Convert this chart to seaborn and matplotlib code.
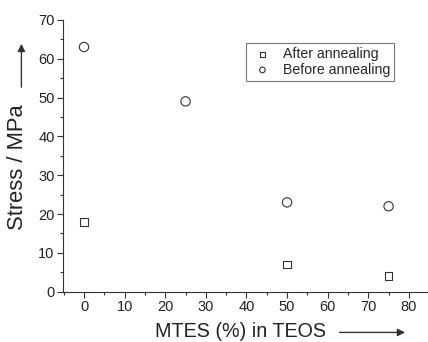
import matplotlib
matplotlib.use('Agg')
import matplotlib.pyplot as plt
from matplotlib.ticker import MultipleLocator
import seaborn as sns
import pandas as pd

# data
mtes_after = [0, 50, 75]
stress_after = [18, 7, 4]
mtes_before = [0, 25, 50, 75]
stress_before = [63, 49, 23, 22]

sns.set_style('ticks')
plt.rcParams['font.family'] = ['Liberation Sans', 'DejaVu Sans']

fig = plt.figure(figsize=(4.28, 3.42), dpi=100)
ax = fig.add_axes([0.147, 0.147, 0.851, 0.795])

df_after = pd.DataFrame({'x': mtes_after, 'y': stress_after})
df_before = pd.DataFrame({'x': mtes_before, 'y': stress_before})
sns.scatterplot(data=df_after, x='x', y='y', marker='s', s=30, facecolors='none',
                edgecolor='#333333', linewidth=0.8, label='After annealing', ax=ax)
sns.scatterplot(data=df_before, x='x', y='y', marker='o', s=45, facecolors='none',
                edgecolor='#333333', linewidth=0.8, label='Before annealing', ax=ax)

ax.set_xlim(-5.2, 84.5)
ax.set_ylim(0, 70)
ax.xaxis.set_major_locator(MultipleLocator(10))
ax.xaxis.set_minor_locator(MultipleLocator(5))
ax.yaxis.set_major_locator(MultipleLocator(10))
ax.yaxis.set_minor_locator(MultipleLocator(5))
ax.tick_params(which='major', length=4, width=0.8, labelsize=10.5, color='#333333', labelcolor='#222222', pad=2)
ax.tick_params(which='minor', length=2.5, width=0.8, color='#333333')
for side in ['top', 'right']:
    ax.spines[side].set_visible(False)
for side in ['left', 'bottom']:
    ax.spines[side].set_linewidth(0.8)
    ax.spines[side].set_color('#333333')

ax.set_xlabel('')
ax.set_ylabel('')
fig.text(0.362, 0.03, 'MTES (%) in TEOS', fontsize=14.2, ha='left', va='center', color='#222222')
ax.annotate('', xy=(0.953, 0.028), xytext=(0.787, 0.028), xycoords='figure fraction',
            arrowprops=dict(arrowstyle='-|>', color='#333333', lw=1, mutation_scale=11))
fig.text(0.042, 0.512, 'Stress / MPa', fontsize=15.8, ha='center', va='center', rotation=90, color='#222222')
ax.annotate('', xy=(0.05, 0.88), xytext=(0.05, 0.737), xycoords='figure fraction',
            arrowprops=dict(arrowstyle='-|>', color='#333333', lw=1, mutation_scale=11))

leg = ax.legend(loc='upper left', bbox_to_anchor=(0.503, 0.915), borderaxespad=0, frameon=True,
                fancybox=False, fontsize=10.2, handletextpad=0.58, borderpad=0.3, labelspacing=0.1,
                handlelength=1.7, markerscale=0.6)
leg.get_frame().set_edgecolor('#555555')
leg.get_frame().set_linewidth(0.8)

fig.savefig('out.png', dpi=100)
